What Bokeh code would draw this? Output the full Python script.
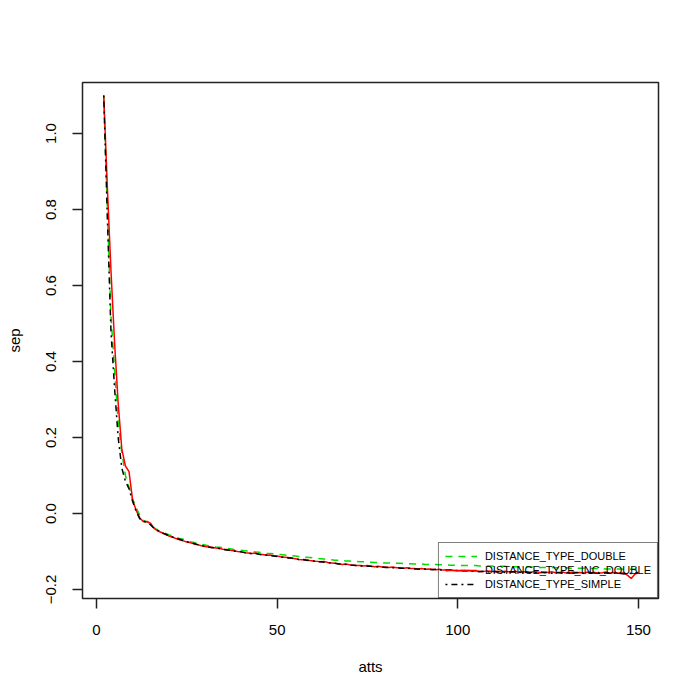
from bokeh.plotting import figure
from bokeh.models import Range1d, FixedTicker, Legend, LegendItem, ColumnDataSource
from bokeh.embed import file_html
from bokeh.resources import INLINE

# ---------------- data ----------------
atts = list(range(2, 151))

sep_double = [
    1.100, 0.800, 0.520, 0.380, 0.240, 0.160, 0.100, 0.070, 0.038, 0.015,
    -0.005, -0.018, -0.022, -0.027, -0.038, -0.044, -0.049, -0.052, -0.056, -0.059,
    -0.062, -0.066, -0.068, -0.071, -0.074, -0.076, -0.079, -0.081, -0.083, -0.085,
    -0.086, -0.088, -0.089, -0.090, -0.092, -0.093, -0.095, -0.096, -0.097, -0.098,
    -0.099, -0.100, -0.101, -0.102, -0.103, -0.105, -0.105, -0.106, -0.107, -0.108,
    -0.109, -0.110, -0.111, -0.112, -0.113, -0.114, -0.115, -0.116, -0.117, -0.118,
    -0.119, -0.120, -0.121, -0.122, -0.123, -0.123, -0.124, -0.125, -0.125, -0.126,
    -0.126, -0.127, -0.127, -0.128, -0.128, -0.129, -0.129, -0.130, -0.130, -0.130,
    -0.131, -0.131, -0.131, -0.132, -0.132, -0.132, -0.133, -0.133, -0.133, -0.134,
    -0.134, -0.134, -0.134, -0.135, -0.135, -0.135, -0.136, -0.136, -0.136, -0.137,
    -0.137, -0.137, -0.137, -0.137, -0.138, -0.138, -0.138, -0.138, -0.139, -0.139,
    -0.139, -0.139, -0.140, -0.140, -0.140, -0.140, -0.141, -0.141, -0.141, -0.141,
    -0.142, -0.142, -0.142, -0.142, -0.142, -0.143, -0.143, -0.143, -0.143, -0.144,
    -0.144, -0.144, -0.144, -0.144, -0.145, -0.145, -0.145, -0.145, -0.145, -0.146,
    -0.146, -0.146, -0.146, -0.146, -0.147, -0.147, -0.147, -0.147, -0.146,
]

sep_inc_double = [
    1.100, 0.860, 0.640, 0.450, 0.290, 0.170, 0.125, 0.110, 0.035, 0.008,
    -0.012, -0.022, -0.021, -0.026, -0.040, -0.046, -0.050, -0.055, -0.059, -0.062,
    -0.066, -0.069, -0.072, -0.075, -0.077, -0.080, -0.082, -0.085, -0.087, -0.088,
    -0.089, -0.091, -0.092, -0.094, -0.095, -0.097, -0.098, -0.100, -0.101, -0.103,
    -0.104, -0.105, -0.104, -0.107, -0.108, -0.110, -0.109, -0.111, -0.112, -0.114,
    -0.115, -0.116, -0.118, -0.119, -0.121, -0.122, -0.121, -0.124, -0.125, -0.126,
    -0.127, -0.126, -0.129, -0.130, -0.131, -0.132, -0.134, -0.133, -0.135, -0.136,
    -0.137, -0.137, -0.138, -0.137, -0.139, -0.140, -0.139, -0.141, -0.141, -0.142,
    -0.141, -0.143, -0.143, -0.144, -0.143, -0.145, -0.145, -0.146, -0.145, -0.147,
    -0.146, -0.147, -0.148, -0.147, -0.149, -0.148, -0.149, -0.150, -0.151, -0.150,
    -0.151, -0.150, -0.152, -0.151, -0.152, -0.153, -0.151, -0.152, -0.153, -0.152,
    -0.154, -0.152, -0.153, -0.154, -0.152, -0.155, -0.153, -0.154, -0.155, -0.153,
    -0.154, -0.156, -0.154, -0.155, -0.153, -0.156, -0.155, -0.154, -0.157, -0.155,
    -0.154, -0.156, -0.155, -0.157, -0.154, -0.156, -0.155, -0.157, -0.156, -0.154,
    -0.157, -0.155, -0.156, -0.158, -0.156, -0.163, -0.171, -0.160, -0.154,
]

sep_simple = [
    1.100, 0.780, 0.480, 0.330, 0.200, 0.120, 0.085, 0.065, 0.032, 0.005,
    -0.014, -0.020, -0.024, -0.030, -0.040, -0.045, -0.050, -0.054, -0.058, -0.062,
    -0.065, -0.068, -0.071, -0.074, -0.077, -0.079, -0.082, -0.084, -0.086, -0.088,
    -0.090, -0.090, -0.092, -0.094, -0.096, -0.097, -0.099, -0.100, -0.101, -0.103,
    -0.104, -0.106, -0.105, -0.107, -0.109, -0.109, -0.111, -0.112, -0.113, -0.114,
    -0.116, -0.117, -0.117, -0.119, -0.121, -0.121, -0.123, -0.124, -0.125, -0.127,
    -0.127, -0.128, -0.129, -0.131, -0.131, -0.133, -0.133, -0.134, -0.136, -0.136,
    -0.137, -0.138, -0.138, -0.139, -0.139, -0.141, -0.140, -0.141, -0.142, -0.142,
    -0.143, -0.142, -0.144, -0.144, -0.145, -0.144, -0.146, -0.146, -0.147, -0.146,
    -0.147, -0.148, -0.147, -0.149, -0.148, -0.150, -0.149, -0.150, -0.150, -0.151,
    -0.150, -0.152, -0.151, -0.152, -0.153, -0.152, -0.153, -0.154, -0.152, -0.154,
    -0.153, -0.155, -0.154, -0.153, -0.155, -0.154, -0.156, -0.154, -0.155, -0.156,
    -0.155, -0.154, -0.156, -0.155, -0.157, -0.155, -0.156, -0.157, -0.155, -0.156,
    -0.157, -0.155, -0.156, -0.158, -0.156, -0.157, -0.155, -0.157, -0.158, -0.156,
    -0.157, -0.158, -0.156, -0.157, -0.159, -0.157, -0.158, -0.156, -0.157,
]

series_names = ["DISTANCE_TYPE_DOUBLE", "DISTANCE_TYPE_INC_DOUBLE", "DISTANCE_TYPE_SIMPLE"]

x_ticks = [0, 50, 100, 150]
y_ticks = [-0.2, 0.0, 0.2, 0.4, 0.6, 0.8, 1.0]
y_tick_labels = ["\u22120.2", "0.0", "0.2", "0.4", "0.6", "0.8", "1.0"]

FONT = "Liberation Sans"

# ---------------- figure ----------------
p = figure(
    width=692, height=692,
    x_range=Range1d(-3.875, 155.55),
    y_range=Range1d(-0.2237, 1.1342),
    output_backend="svg", toolbar_location=None,
    min_border_left=82, min_border_top=82, min_border_right=34, min_border_bottom=94,
    background_fill_color="white", border_fill_color="white",
)
p.grid.visible = False
p.outline_line_color = "#222222"
p.outline_line_width = 1.5

src = ColumnDataSource(dict(atts=atts, d=sep_double, inc=sep_inc_double, s=sep_simple))

r_d = p.line("atts", "d", source=src, line_color="#00dd00", line_width=1.5, line_dash="7 6")
r_i = p.line("atts", "inc", source=src, line_color="#ff0000", line_width=1.5)
r_s = p.line("atts", "s", source=src, line_color="#000000", line_width=1.5, line_dash="2 4 6 4")

for ax in (p.xaxis[0], p.yaxis[0]):
    ax.axis_line_color = None
    ax.major_tick_line_color = "#222222"
    ax.major_tick_line_width = 1.5
    ax.major_tick_out = 10
    ax.major_tick_in = 0
    ax.minor_tick_line_color = None
    ax.major_label_text_font = FONT
    ax.major_label_text_font_size = "15px"
    ax.major_label_text_color = "black"
    ax.axis_label_text_font = FONT
    ax.axis_label_text_font_size = "15px"
    ax.axis_label_text_font_style = "normal"
    ax.axis_label_text_color = "black"

p.xaxis.ticker = FixedTicker(ticks=x_ticks)
p.yaxis.ticker = FixedTicker(ticks=y_ticks)
p.yaxis.major_label_overrides = {t: l for t, l in zip(y_ticks, y_tick_labels)}
p.xaxis.major_label_overrides = {t: str(t) for t in x_ticks}
p.yaxis.major_label_orientation = "vertical"
p.xaxis.axis_label = "atts"
p.yaxis.axis_label = "sep"
p.xaxis.major_label_standoff = 16
p.yaxis.major_label_standoff = 16
p.xaxis.axis_label_standoff = 20
p.yaxis.axis_label_standoff = 21

legend = Legend(
    items=[
        LegendItem(label=series_names[0], renderers=[r_d]),
        LegendItem(label=series_names[1], renderers=[r_i]),
        LegendItem(label=series_names[2], renderers=[r_s]),
    ],
    location="bottom_right",
    margin=0,
    padding=6,
    spacing=0,
    glyph_width=32,
    glyph_height=14,
    label_height=14,
    label_standoff=8,
    label_text_font=FONT,
    label_text_font_size="11px",
    label_text_color="black",
    background_fill_alpha=0,
    border_line_color="black",
    border_line_width=1,
)
p.add_layout(legend)

open("out.html", "w").write(file_html(p, INLINE))
